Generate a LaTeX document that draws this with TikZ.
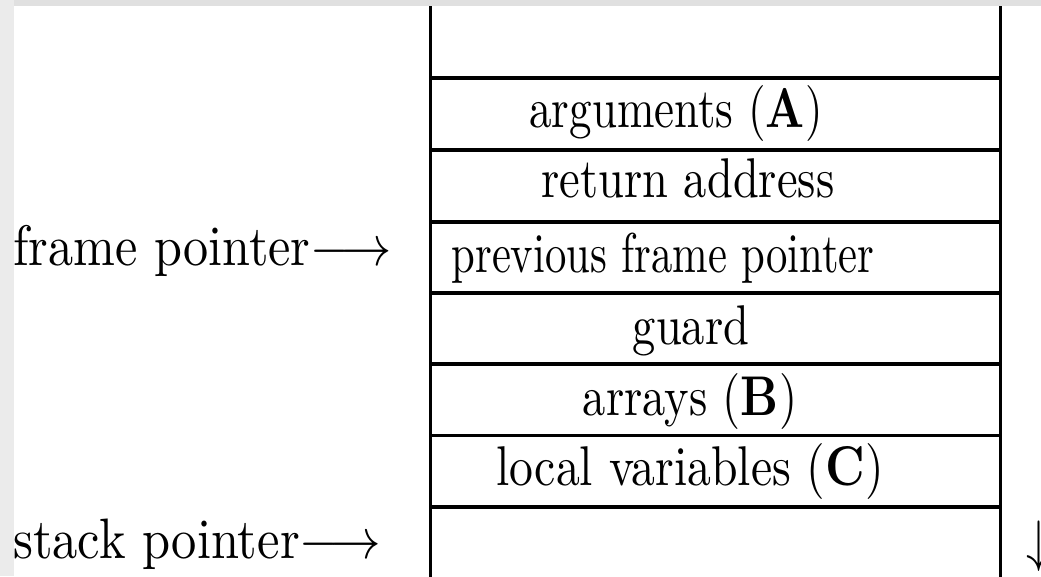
\documentclass[tikz,border=0pt]{standalone}
\usepackage{graphicx}
\definecolor{topgrey}{HTML}{E0E0E0}
\definecolor{leftgrey}{HTML}{EBEBEB}
\begin{document}
\begin{tikzpicture}[x=1pt,y=-1pt,
  rule/.style={line width=3.2pt,black},
  boxtext/.style={anchor=base,inner sep=0pt,font=\fontsize{10}{12}\selectfont},
  lbl/.style={anchor=base west,inner sep=0pt,font=\fontsize{10}{12}\selectfont}]
\useasboundingbox (0,0) rectangle (1041,576);
\fill[white] (0,0) rectangle (1041,576);
\fill[topgrey] (0,0) rectangle (1041,6);
\fill[leftgrey] (0,0) rectangle (14,576);
% stack frame
\draw[rule] (430.5,6) -- (430.5,580);
\draw[rule] (1000.5,6) -- (1000.5,580);
\foreach \yy in {78,150,222,293,364,435.5,507}
  \draw[rule] (429,\yy) -- (1002,\yy);
% cell texts
\node[boxtext] (args)   at (676,127) {\scalebox{4.5}[5.6]{arguments $(\mathbf{A})$}};
\node[boxtext] (ret)    at (688,197) {\scalebox{4.65}[5.6]{return address}};
\node[boxtext] (prev)   at (663,272) {\scalebox{4.27}[5.6]{previous frame pointer}};
\node[boxtext] (guard)  at (691,344) {\scalebox{4.65}[5.6]{guard}};
\node[boxtext] (arrays) at (690,415) {\scalebox{4.65}[5.6]{arrays $(\mathbf{B})$}};
\node[boxtext] (local)  at (690,485) {\scalebox{4.77}[5.6]{local variables $(\mathbf{C})$}};
% pointer labels
\node[lbl] (fp) at (13,265) {\scalebox{5.02}[5.7]{frame pointer$\longrightarrow$}};
\node[lbl] (sp) at (13,558) {\scalebox{5.05}[5.7]{stack pointer$\longrightarrow$}};
\node[boxtext] (down) at (1039,560) {\scalebox{5}[5.7]{$\downarrow$}};
\end{tikzpicture}
\end{document}
